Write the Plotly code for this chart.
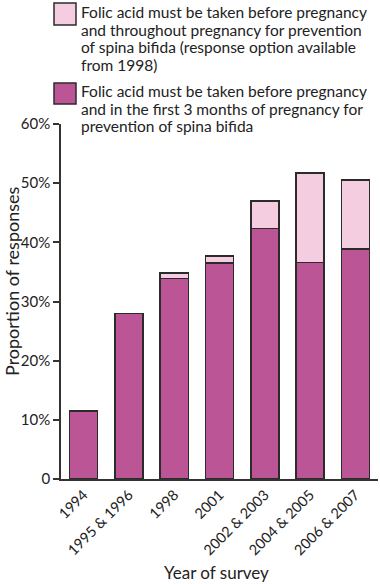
import plotly.graph_objects as go

categories = ["1994", "1995 & 1996", "1998", "2001", "2002 & 2003", "2004 & 2005", "2006 & 2007"]
first3_months = [11.5, 28.0, 33.9, 36.5, 42.3, 36.6, 38.9]
throughout = [None, None, 0.9, 1.2, 4.7, 15.1, 11.6]
ytick_vals = [0, 10, 20, 30, 40, 50, 60]
ytick_text = ["0", "10%", "20%", "30%", "40%", "50%", "60%"]

legend_light = ["Folic acid must be taken before pregnancy",
                "and throughout pregnancy for prevention",
                "of spina bifida (response option available",
                "from 1998)"]
legend_dark = ["Folic acid must be taken before pregnancy",
               "and in the first 3 months of pregnancy for",
               "prevention of spina bifida"]

DARK = "#BC5596"
LIGHT = "#F4CEE0"
EDGE = "#2b2b2b"
FONT = "Lato"
TXT = "#222"

W, H = 380, 584
L, R, T, B = 61, 2, 124, 105
ph = H - T - B
pw = W - L - R

def py(p):
    return (H - B - p) / ph

def px(p):
    return (p - L) / pw

fig = go.Figure()
fig.add_trace(go.Bar(x=categories, y=first3_months, marker=dict(color=DARK, line=dict(color=EDGE, width=1.5)), showlegend=False))
fig.add_trace(go.Bar(x=categories, y=throughout, marker=dict(color=LIGHT, line=dict(color=EDGE, width=1.5)), showlegend=False))

shapes = []
annotations = []
for (y0, y1, col, lines, ty) in [(3, 25, LIGHT, legend_light, 12), (83, 104, DARK, legend_dark, 91)]:
    shapes.append(dict(type="rect", xref="paper", yref="paper", x0=px(54), x1=px(76), y0=py(y1), y1=py(y0),
                       fillcolor=col, line=dict(color=EDGE, width=1.5)))
    for i, ln in enumerate(lines):
        annotations.append(dict(xref="paper", yref="paper", x=px(79), y=py(ty + 17.6 * i), xanchor="left",
                                yanchor="middle", align="left", text=ln, showarrow=False,
                                font=dict(family=FONT, size=15.5, color=TXT)))

annotations.append(dict(xref="paper", yref="paper", x=px(12), y=py(281), text="Proportion of responses", textangle=-90,
                        showarrow=False, xanchor="center", yanchor="middle", font=dict(family=FONT, size=18, color=TXT)))
annotations.append(dict(xref="paper", yref="paper", x=px(216), y=py(572), text="Year of survey",
                        showarrow=False, xanchor="center", yanchor="middle", font=dict(family=FONT, size=17, color=TXT)))

fig.update_layout(
    width=W, height=H, margin=dict(l=L, r=R, t=T, b=B),
    barmode="stack", bargap=0.38,
    paper_bgcolor="white", plot_bgcolor="white",
    font=dict(family=FONT, size=14, color=TXT),
    shapes=shapes, annotations=annotations,
    xaxis=dict(tickangle=-45, showline=True, linecolor="#333", linewidth=1.5, ticks="", showgrid=False,
               tickfont=dict(size=14.5)),
    yaxis=dict(range=[0, 60], tickvals=ytick_vals, ticktext=ytick_text, showline=True, linecolor="#333",
               linewidth=1.5, ticks="outside", ticklen=6, tickcolor="#333", tickwidth=1.5, showgrid=False,
               zeroline=False, tickfont=dict(size=15)),
)

fig.write_html("out.html", config={"displayModeBar": False},
               post_script="document.body.style.margin='0';document.body.style.overflow='hidden';")
